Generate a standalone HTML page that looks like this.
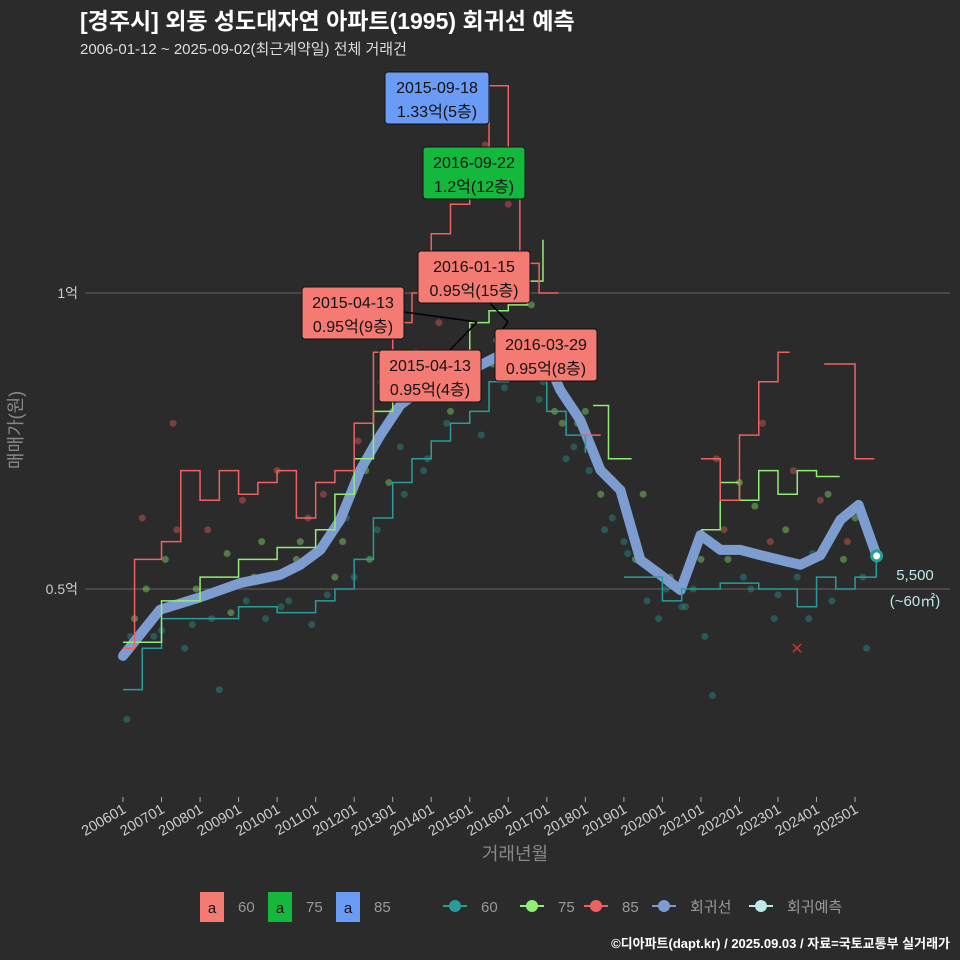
<!DOCTYPE html>
<html><head><meta charset="utf-8">
<style>
html,body{margin:0;padding:0;background:#2b2b2b;}
svg{display:block;font-family:"Liberation Sans","Noto Sans CJK KR",sans-serif;}
</style></head>
<body>
<svg id="chart" width="960" height="960" viewBox="0 0 960 960">
<rect width="960" height="960" fill="#2b2b2b"/>
<text x="80" y="29" fill="#ffffff" font-size="23" font-weight="bold">[경주시] 외동 성도대자연 아파트(1995) 회귀선 예측</text>
<text x="80" y="54" fill="#dddddd" font-size="15">2006-01-12 ~ 2025-09-02(최근계약일) 전체 거래건</text>
<g id="grid"></g>
<g id="pts"></g>
<g id="lines"></g>
<g id="ann"></g>
<g id="xaxis"></g>
<text x="515" y="860" fill="#888" font-size="18" text-anchor="middle">거래년월</text>
<text transform="translate(22,430) rotate(-90)" fill="#888" font-size="18" text-anchor="middle">매매가(원)</text>
<g id="legend"></g>
<text x="950" y="948" fill="#ffffff" font-size="13" font-weight="bold" text-anchor="end">©디아파트(dapt.kr) / 2025.09.03 / 자료=국토교통부 실거래가</text>
</svg>
<script>
const yTickVals=[0.5,1];
const yTickLabels=["0.5억","1억"];
const xTickYears=[2006,2007,2008,2009,2010,2011,2012,2013,2014,2015,2016,2017,2018,2019,2020,2021,2022,2023,2024,2025];
const xTickLabels=["200601","200701","200801","200901","201001","201101","201201","201301","201401","201501","201601","201701","201801","201901","202001","202101","202201","202301","202401","202501"];
const regT=[2006.0,2006.96,2008.0,2009.04,2010.08,2010.6,2011.12,2011.64,2012.16,2012.68,2013.2,2013.71,2014.23,2014.75,2015.27,2015.79,2016.31,2016.83,2017.35,2017.87,2018.39,2018.91,2019.43,2019.95,2020.47,2020.99,2021.51,2022.03,2022.55,2023.06,2023.58,2024.1,2024.62,2025.09,2025.56];
const regV=[0.387,0.465,0.486,0.51,0.524,0.541,0.566,0.617,0.701,0.76,0.811,0.836,0.845,0.861,0.878,0.895,0.912,0.912,0.836,0.785,0.701,0.667,0.549,0.524,0.498,0.591,0.566,0.566,0.557,0.549,0.541,0.557,0.617,0.642,0.556];
const r85T=[2006.0,2006.3,2007.0,2007.5,2008.0,2008.5,2009.0,2009.5,2010.0,2010.5,2011.0,2011.5,2012.0,2012.5,2013.0,2013.5,2014.0,2014.5,2015.0,2015.5,2016.0,2016.3,2016.8,2017.3,null,2017.9,2018.4,null,2021.0,2021.5,2022.0,2022.5,2023.0,2023.3,null,2024.2,2024.7,2025.0,2025.5];
const r85V=[0.40,0.55,0.58,0.70,0.65,0.70,0.66,0.68,0.70,0.62,0.68,0.70,0.78,0.90,0.95,1.0,1.10,1.15,1.22,1.35,1.22,1.05,1.0,1.0,null,0.76,0.76,null,0.72,0.65,0.76,0.85,0.90,0.90,null,0.88,0.88,0.72,0.72];
const g75T=[2006.0,2007.0,2008.0,2009.0,2010.0,2011.0,2011.5,2012.0,2012.5,2013.0,2013.5,2014.0,2014.5,2015.0,2015.5,2016.0,2016.5,2016.9,null,2018.2,2018.6,2019.2,null,2021.0,2021.5,2022.0,2022.5,2023.0,2023.5,2024.0,2024.6];
const g75V=[0.41,0.48,0.52,0.55,0.57,0.60,0.66,0.72,0.80,0.85,0.88,0.90,0.88,0.95,0.97,0.98,1.02,1.09,null,0.81,0.72,0.72,null,0.60,0.68,0.65,0.70,0.66,0.70,0.69,0.69];
const t60T=[2006.0,2006.5,2007.0,2008.0,2009.0,2010.0,2011.0,2011.5,2012.0,2012.5,2013.0,2013.5,2014.0,2014.5,2015.0,2015.5,2016.0,2016.5,2017.0,2017.5,2018.0,null,2019.0,2019.5,2020.0,2020.5,2021.0,2021.5,2022.0,2022.5,2023.0,2023.5,2024.0,2024.5,2025.0,2025.55];
const t60V=[0.33,0.40,0.45,0.45,0.47,0.46,0.48,0.50,0.55,0.62,0.68,0.72,0.75,0.78,0.80,0.85,0.88,0.86,0.80,0.76,0.73,null,0.52,0.52,0.48,0.50,0.50,0.51,0.51,0.50,0.50,0.47,0.52,0.50,0.52,0.55];
const ptT=[2006.1,2006.3,2006.5,2006.8,2007.1,2007.3,2007.6,2007.9,2008.2,2008.5,2008.8,2009.1,2009.4,2009.7,2010.0,2010.3,2010.6,2010.9,2011.2,2011.5,2011.8,2012.1,2012.4,2012.7,2013.0,2013.3,2013.6,2013.9,2014.2,2014.5,2014.8,2015.1,2015.4,2015.7,2016.0,2016.3,2016.6,2016.9,2017.2,2017.5,2017.8,2018.1,2018.4,2018.7,2019.0,2019.3,2019.6,2019.9,2020.2,2020.5,2020.8,2021.1,2021.4,2021.7,2022.0,2022.3,2022.6,2022.9,2023.2,2023.5,2023.8,2024.1,2024.4,2024.7,2025.0,2025.3,
 2006.2,2006.6,2007.0,2007.4,2007.8,2008.3,2008.7,2009.2,2009.6,2010.1,2010.5,2010.8,2011.3,2011.7,2012.0,2012.3,2012.6,2012.9,2013.2,2013.5,2013.8,2014.1,2014.4,2014.7,2015.0,2015.3,2015.6,2015.9,2016.2,2016.5,2016.8,2017.1,2017.4,2017.7,2018.0,2018.5,2019.1,2019.5,2020.1,2020.6,2021.0,2021.3,2021.6,2022.1,2022.4,2022.8,2023.0,2023.4,2023.9,2024.3,2024.8,2025.2];
const ptV=[0.28,0.45,0.62,0.42,0.55,0.78,0.40,0.50,0.60,0.33,0.46,0.65,0.52,0.45,0.70,0.48,0.58,0.44,0.66,0.52,0.62,0.75,0.55,0.85,0.80,0.66,0.90,0.72,0.95,0.80,0.88,0.82,1.25,0.92,1.15,0.90,0.98,0.85,0.80,0.72,0.78,0.70,0.66,0.62,0.58,0.55,0.48,0.45,0.52,0.47,0.50,0.42,0.72,0.55,0.68,0.50,0.78,0.45,0.60,0.52,0.45,0.65,0.48,0.55,0.62,0.40,
 0.42,0.50,0.43,0.60,0.44,0.45,0.56,0.48,0.58,0.47,0.55,0.62,0.49,0.58,0.52,0.70,0.60,0.68,0.74,0.82,0.70,0.86,0.78,0.84,0.90,0.76,0.88,0.84,0.92,0.88,0.82,0.86,0.78,0.74,0.80,0.60,0.56,0.66,0.50,0.47,0.55,0.32,0.60,0.52,0.64,0.58,0.49,0.70,0.56,0.66,0.58,0.52];
const ptC=[0,1,2,0,1,2,0,1,2,0,1,2,1,0,2,0,1,0,2,1,0,2,1,2,1,0,2,0,2,1,0,0,2,1,2,0,1,0,1,0,1,0,1,0,0,1,0,0,1,0,0,0,2,1,1,0,2,0,1,0,0,2,0,1,1,0,
 0,1,0,2,0,0,1,0,1,0,1,2,0,1,0,1,0,1,0,2,0,1,0,0,1,0,1,0,0,1,0,0,1,0,1,0,0,1,0,0,1,0,2,0,1,2,0,2,0,1,2,0];

const NS="http://www.w3.org/2000/svg";
function X(t){return 123+(t-2006)*38.53;}
function Y(v){return 589-(v-0.5)*592;}
function mk(tag,attrs,parent){const e=document.createElementNS(NS,tag);for(const k in attrs)e.setAttribute(k,attrs[k]);parent.appendChild(e);return e;}
const grid=document.getElementById('grid');
yTickVals.forEach((v,i)=>{
 const l=mk('line',{x1:85,x2:950,y1:Y(v),y2:Y(v),stroke:'#666','stroke-width':1},grid);
 
 
 const t=mk('text',{x:78,y:Y(v)+5,fill:'#ccc','font-size':14,'text-anchor':'end'},grid);
 t.textContent=yTickLabels[i];
 
 
});
const xa=document.getElementById('xaxis');
xTickYears.forEach((yr,i)=>{
 const x=X(yr);
 const tk=mk('line',{x1:x,x2:x,y1:797,y2:802,stroke:'#aaa'},xa);
 
 
 const t=mk('text',{x:x+4,y:812,fill:'#ccc','font-size':14.5,'text-anchor':'end',transform:`rotate(-30 ${x+4} 812)`},xa);
 t.textContent=xTickLabels[i];
 
 
});
const colors=['#2a9d9a','#90ee78','#f06262'];
const pts=document.getElementById('pts');
ptT.forEach((t,i)=>{
 const c=mk('circle',{cx:X(t),cy:Y(ptV[i]),r:3.5,fill:colors[ptC[i]],'fill-opacity':0.4},pts);
 
 
});
const lines=document.getElementById('lines');
function path(T,V){let d='',pen=false;for(let i=0;i<T.length;i++){if(T[i]===null){pen=false;continue;}const x=X(T[i]),y=Y(V[i]);if(!pen){d+=`M${x},${y}`;pen=true;}else{d+=`H${x}V${y}`;}}return d;}
function spath(T,V){return T.map((t,i)=>(i?'L':'M')+X(t)+','+Y(V[i])).join('');}
const reg=mk('path',{d:spath(regT,regV),fill:'none',stroke:'#7d9ccf','stroke-width':10,'stroke-linejoin':'round','stroke-linecap':'round'},lines);


const l60=mk('path',{d:path(t60T,t60V),fill:'none',stroke:'#2a9d9a','stroke-width':1.5},lines);


const l75=mk('path',{d:path(g75T,g75V),fill:'none',stroke:'#90ee78','stroke-width':1.5},lines);


const l85=mk('path',{d:path(r85T,r85V),fill:'none',stroke:'#f06262','stroke-width':1.5},lines);


const lastT=regT[regT.length-1],lastV=regV[regV.length-1];
const ep=mk('circle',{cx:X(lastT),cy:Y(lastV),r:5,fill:'#fff',stroke:'#2a9d9a','stroke-width':3},lines);


const xm=mk('text',{x:797,y:654,fill:'#d03030','font-size':16,'text-anchor':'middle'},lines);
xm.textContent='✕';


const ann=document.getElementById('ann');
function label(x,y,w,fill,l1,l2,name){
 const g=mk('g',{},ann);
 
 
 mk('rect',{x:x,y:y,width:w,height:52,rx:3,fill:fill,stroke:'#111','stroke-width':1},g);
 const a=mk('text',{x:x+w/2,y:y+21,'font-size':16,'text-anchor':'middle',fill:'#111'},g);a.textContent=l1;
 const b=mk('text',{x:x+w/2,y:y+45,'font-size':16,'text-anchor':'middle',fill:'#111'},g);b.textContent=l2;
}
[[404,312,477,322],[450,350,477,322],[490,303,508,322],[502,330,508,322]].forEach(s=>{
 const l=mk('line',{x1:s[0],y1:s[1],x2:s[2],y2:s[3],stroke:'#000','stroke-width':1.5},ann);
 
 
});
label(385,72,104,'#6a9bf5','2015-09-18','1.33억(5층)','label-max-85');
label(423,147,102,'#13b83d','2016-09-22','1.2억(12층)','label-max-75');
label(418,251,112,'#f47b73','2016-01-15','0.95억(15층)','label-2016-01-15');
label(302,287,102,'#f47b73','2015-04-13','0.95억(9층)','label-2015-04-13-9');
label(379,350,102,'#f47b73','2015-04-13','0.95억(4층)','label-2015-04-13-4');
label(495,329,102,'#f47b73','2016-03-29','0.95억(8층)','label-2016-03-29');
const f1=mk('text',{x:915,y:580,fill:'#bfe9e6','font-size':15,'text-anchor':'middle'},ann);f1.textContent='5,500';


const f2=mk('text',{x:915,y:606,fill:'#bfe9e6','font-size':15,'text-anchor':'middle'},ann);f2.textContent='(~60㎡)';


const lg=document.getElementById('legend');
const boxes=[['#f47b73','60',200],['#13b83d','75',268],['#6a9bf5','85',336]];
boxes.forEach(b=>{
 const g=mk('g',{},lg);
 
 
 mk('rect',{x:b[2],y:892,width:24,height:30,fill:b[0]},g);
 const a=mk('text',{x:b[2]+12,y:913,'font-size':15,'text-anchor':'middle',fill:'#111'},g);a.textContent='a';
 const t=mk('text',{x:b[2]+38,y:912,'font-size':15,fill:'#999'},g);t.textContent=b[1];
});
const items=[['#2a9d9a','60',455],['#90ee78','75',532],['#f06262','85',596],['#7d9ccf','회귀선',664],['#bfe9e6','회귀예측',761]];
items.forEach(it=>{
 const g=mk('g',{},lg);
 
 
 mk('line',{x1:it[2]-12,x2:it[2]+12,y1:906,y2:906,stroke:it[0],'stroke-width':2},g);
 mk('circle',{cx:it[2],cy:906,r:6,fill:it[0]},g);
 const t=mk('text',{x:it[2]+26,y:912,'font-size':15,fill:'#999'},g);t.textContent=it[1];
});
</script>
</body></html>
